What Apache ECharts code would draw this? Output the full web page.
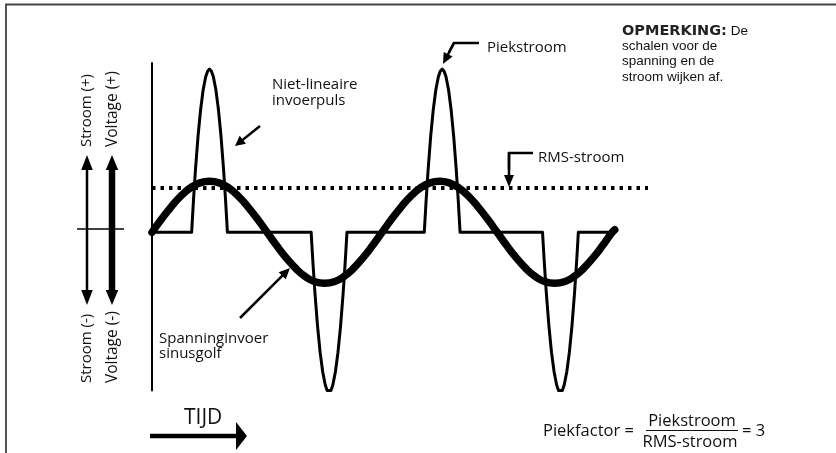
<!DOCTYPE html>
<html><head><meta charset="utf-8">
<script src="https://cdn.jsdelivr.net/npm/echarts@6.0.0/dist/echarts.min.js"></script>
<style>html,body{margin:0;padding:0;background:#fff}#c{width:836px;height:453px}</style>
</head><body><div id="c"></div>
<script>
// Time axis in electrical degrees, amplitude in units of the sine peak
const voltageWave = [[0,0],[15,0.26],[30,0.5],[45,0.71],[60,0.87],[75,0.97],[90,1],[105,0.97],[120,0.87],[135,0.71],[150,0.5],[165,0.26],
  [180,0],[195,-0.26],[210,-0.5],[225,-0.71],[240,-0.87],[255,-0.97],[270,-1],[285,-0.97],[300,-0.87],[315,-0.71],[330,-0.5],[345,-0.26],
  [360,0],[375,0.26],[390,0.5],[405,0.71],[420,0.87],[435,0.97],[450,1],[465,0.97],[480,0.87],[495,0.71],[510,0.5],[525,0.26],
  [540,0],[555,-0.26],[570,-0.5],[585,-0.71],[600,-0.87],[615,-0.97],[630,-1],[645,-0.97],[660,-0.87],[675,-0.71],[690,-0.5],[705,-0.26],
  [720,0],[724,0.05]];
const currentPulse1 = [[62,0],[63,0.22],[65,0.65],[68,1.23],[72,1.88],[76,2.40],[80,2.79],[84,3.05],[87,3.16],[90,3.2],[93,3.16],[96,3.05],[100,2.79],[104,2.40],[108,1.88],[112,1.23],[115,0.65],[117,0.22],[118,0]];
const currentPulse2 = [[249,0],[250,-0.22],[252,-0.64],[255,-1.20],[259,-1.84],[263,-2.35],[267,-2.73],[271,-2.99],[274,-3.10],[277,-3.13],[280,-3.10],[283,-2.99],[287,-2.73],[291,-2.35],[295,-1.84],[299,-1.20],[302,-0.64],[304,-0.22],[305,0]];
const currentPulse3 = [[426,0],[427,0.22],[429,0.65],[432,1.23],[436,1.88],[440,2.40],[444,2.79],[448,3.05],[451,3.16],[454,3.2],[457,3.16],[460,3.05],[464,2.79],[468,2.40],[472,1.88],[476,1.23],[479,0.65],[481,0.22],[482,0]];
const currentPulse4 = [[611,0],[612,-0.22],[614,-0.64],[617,-1.20],[621,-1.84],[625,-2.35],[629,-2.73],[633,-2.99],[636,-3.10],[639,-3.13],[642,-3.10],[645,-2.99],[649,-2.73],[653,-2.35],[657,-1.84],[661,-1.20],[664,-0.64],[666,-0.22],[667,0]];
const currentStart = [0,0];
const currentEnd = [716,0];
const rmsLevel = 0.87;
const rmsSpan = [0,776];

const currentWave = [currentStart].concat(currentPulse1, currentPulse2, currentPulse3, currentPulse4, [currentEnd]);

const FONT = '"Open Sans", "Noto Sans", sans-serif';
function txt(x, y, s, size, extra) {
  return Object.assign({type:'text', x:x, y:y, silent:true,
    style:{text:s, font:size+'px '+FONT, fill:'#111', textAlign:'left', textVerticalAlign:'middle'}}, extra||{});
}
function arrow(x1,y1,x2,y2,w,hl,hw){
  const dx=x2-x1, dy=y2-y1, L=Math.hypot(dx,dy), ux=dx/L, uy=dy/L;
  const bx=x2-ux*hl, by=y2-uy*hl, px=-uy, py=ux;
  return [
    {type:'line', silent:true, shape:{x1:x1,y1:y1,x2:bx+ux,y2:by+uy}, style:{stroke:'#000', lineWidth:w}},
    {type:'polygon', silent:true, shape:{points:[[x2,y2],[bx+px*hw/2,by+py*hw/2],[bx-px*hw/2,by-py*hw/2]]}, style:{fill:'#000'}}
  ];
}
const g = [];
// frame
g.push({type:'polyline', silent:true, shape:{points:[[6,453],[6,4.5],[836,4.5]]}, style:{stroke:'#444', lineWidth:1.8, fill:null}});
// labels
g.push(txt(272, 84.5, 'Niet-lineaire', 15));
g.push(txt(272, 100.5, 'invoerpuls', 15));
g.push(...arrow(260,126,235,146,2.5,10,10));
g.push(txt(487, 48, 'Piekstroom', 15));
g.push({type:'polyline', silent:true, shape:{points:[[479,43],[454,43],[449,52]]}, style:{stroke:'#000', lineWidth:2.5, fill:null}});
g.push(...arrow(454,43,443,64,2.5,11,10));
g.push(txt(538, 158, 'RMS-stroom', 15));
g.push({type:'polyline', silent:true, shape:{points:[[533,153],[509,153],[509,170]]}, style:{stroke:'#000', lineWidth:2.5, fill:null}});
g.push(...arrow(509,153,509,187,2.5,12,10));
g.push(txt(159, 338.5, 'Spanninginvoer', 15));
g.push(txt(159, 354, 'sinusgolf', 15));
g.push(...arrow(240,318,290,268,2.5,11,10));
// OPMERKING
const OF = '13.5px "Liberation Sans", Arial, sans-serif';
const BF = 'bold 14.5px "DejaVu Sans", sans-serif';
const mctx = document.createElement('canvas').getContext('2d');
mctx.font = BF; const bw = mctx.measureText('OPMERKING:').width;
mctx.font = OF; const sw = mctx.measureText(' ').width;
g.push({type:'text', x:622, y:31.3, silent:true, style:{text:'OPMERKING:', font:BF, fill:'#222', textVerticalAlign:'middle'}});
g.push({type:'text', x:622 + bw + sw, y:31.3, silent:true, style:{text:'De', font:OF, fill:'#111', textVerticalAlign:'middle'}});
[['schalen voor de',46.5],['spanning en de',61.7],['stroom wijken af.',76.9]].forEach(function(l){
  g.push({type:'text', x:622, y:l[1], silent:true, style:{text:l[0], font:OF, fill:'#111', textVerticalAlign:'middle'}});
});
// left polarity arrows
g.push({type:'line', silent:true, shape:{x1:77,y1:229,x2:124,y2:229}, style:{stroke:'#000', lineWidth:1.5}});
g.push(...arrow(87,229,87,155,2.5,15,11.5));
g.push(...arrow(87,229,87,305,2.5,15,11.5));
g.push(...arrow(112,229,112,155,6.5,15,12.5));
g.push(...arrow(112,229,112,305,6.5,15,12.5));
g.push(txt(87, 147, 'Stroom (+)', 15, {rotation:Math.PI/2}));
g.push(txt(112.5, 147, 'Voltage (+)', 15.5, {rotation:Math.PI/2}));
g.push(txt(87, 383, 'Stroom (-)', 15, {rotation:Math.PI/2}));
g.push(txt(112.5, 383, 'Voltage (-)', 15.5, {rotation:Math.PI/2}));
// time arrow
g.push(txt(184, 418, 'TIJD', 21));
g.push(...arrow(150,436,247,436,4.5,11,28));
// formula
g.push(txt(543, 431, 'Piekfactor =', 16.5));
g.push({type:'text', x:692, y:421, silent:true, style:{text:'Piekstroom', font:'16.5px '+FONT, fill:'#111', textAlign:'center', textVerticalAlign:'middle'}});
g.push({type:'line', silent:true, shape:{x1:646,y1:430.5,x2:738,y2:430.5}, style:{stroke:'#111', lineWidth:1.2}});
g.push({type:'text', x:690, y:442, silent:true, style:{text:'RMS-stroom', font:'16.5px '+FONT, fill:'#111', textAlign:'center', textVerticalAlign:'middle'}});
g.push(txt(742, 431, '= 3', 16.5));

const chart = echarts.init(document.getElementById('c'), null, {renderer:'canvas'});
chart.setOption({
  animation:false,
  backgroundColor:'#fff',
  grid:{left:152, right:188, top:63, bottom:62.6, containLabel:false, outerBoundsMode:'none'},
  xAxis:{type:'value', min:0, max:776, show:false},
  yAxis:{type:'value', min:-3.1, max:3.32, axisLine:{show:true, onZero:false, lineStyle:{color:'#000', width:2}},
    axisTick:{show:false}, axisLabel:{show:false}, splitLine:{show:false}},
  series:[
    {type:'line', data:rmsSpan.map(function(x){return [x, rmsLevel];}), showSymbol:false, silent:true,
      lineStyle:{color:'#000', width:4, type:[3.5,5], cap:'butt'}},
    {type:'line', data:currentWave, showSymbol:false, silent:true, lineStyle:{color:'#000', width:3, join:'round'}},
    {type:'line', data:voltageWave, smooth:0.5, showSymbol:false, silent:true, lineStyle:{color:'#000', width:7.5, cap:'round'}}
  ],
  graphic:g
});
</script>
</body></html>
